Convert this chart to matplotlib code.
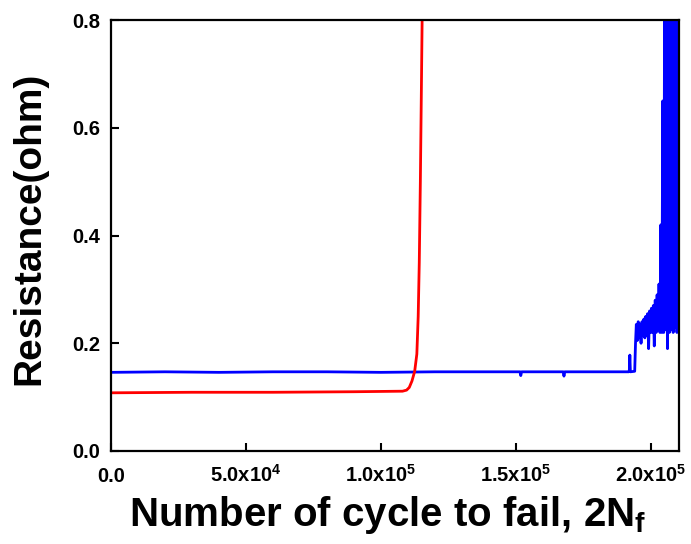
import matplotlib
matplotlib.use('Agg')
import matplotlib.pyplot as plt

plt.rcParams['font.family'] = ['Liberation Sans', 'DejaVu Sans']
plt.rcParams['font.weight'] = 'bold'
plt.rcParams['mathtext.fontset'] = 'custom'
plt.rcParams['mathtext.rm'] = 'Liberation Sans:bold'
plt.rcParams['mathtext.it'] = 'Liberation Sans:bold'
plt.rcParams['mathtext.bf'] = 'Liberation Sans:bold'
plt.rcParams['mathtext.default'] = 'rm'

# sample 1 (red): fails early
red_cycles = [0, 30000, 60000, 90000, 108000, 109500, 110500, 111500, 112500,
              113300, 113800, 114200, 114600, 115000, 115300]
red_res = [0.108, 0.109, 0.109, 0.110, 0.111, 0.113, 0.118, 0.130, 0.148,
           0.180, 0.250, 0.350, 0.500, 0.680, 0.820]

# sample 2 (blue): flat, then noisy rise near failure
blue_cycles = [0, 20000, 40000, 60000, 80000, 100000, 120000, 140000, 151500,
               151800, 152100, 160000, 167500, 167800, 168100, 180000, 191800,
               192000, 192200, 192400, 194000, 194300,
               194600, 194950, 195300, 195650, 196000, 196350, 196700, 197050,
               197400, 197750, 198100, 198450, 198800, 199150, 199500, 199850,
               200200, 200550, 200900, 201250, 201600, 201950, 202300, 202650,
               203000, 203350, 203700, 204050, 204400, 204750, 205100, 205450,
               205800, 206150, 206500, 206850, 207200, 207550, 207900, 208250,
               208600, 208950, 209300, 209650, 210000, 210350, 210700]
blue_res = [0.146, 0.147, 0.146, 0.147, 0.147, 0.146, 0.147, 0.147, 0.147,
            0.140, 0.147, 0.147, 0.147, 0.139, 0.147, 0.147, 0.147,
            0.148, 0.178, 0.147, 0.148, 0.200,
            0.235, 0.205, 0.240, 0.210, 0.235, 0.200, 0.240, 0.215,
            0.245, 0.210, 0.250, 0.215, 0.255, 0.190, 0.260, 0.220,
            0.265, 0.220, 0.270, 0.195, 0.280, 0.220, 0.290, 0.225,
            0.310, 0.220, 0.420, 0.220, 0.650, 0.220, 0.900, 0.225,
            0.900, 0.190, 0.900, 0.220, 0.900, 0.225, 0.900, 0.220,
            0.900, 0.230, 0.900, 0.220, 0.900, 0.225, 0.900]

x_ticks = [0, 50000, 100000, 150000, 200000]
x_tick_labels = ['0.0', '5.0x10$^{4}$', '1.0x10$^{5}$', '1.5x10$^{5}$', '2.0x10$^{5}$']
y_ticks = [0.0, 0.2, 0.4, 0.6, 0.8]
y_tick_labels = ['0.0', '0.2', '0.4', '0.6', '0.8']

fig = plt.figure(figsize=(6.91, 5.44), dpi=100)
ax = fig.add_axes([0.1606, 0.171, 0.8220, 0.792])

ax.plot(blue_cycles, blue_res, color='#0000ff', lw=2.0)
ax.plot(red_cycles, red_res, color='#ff0000', lw=2.0)

ax.set_xlim(0, 210400)
ax.set_ylim(0, 0.8)
ax.set_xticks(x_ticks)
ax.set_xticklabels(x_tick_labels, va='baseline')
ax.set_yticks(y_ticks)
ax.set_yticklabels(y_tick_labels)
ax.tick_params(axis='both', direction='in', length=6, width=1.5, labelsize=14.5)
ax.tick_params(axis='x', pad=22)
ax.tick_params(axis='y', pad=8)
for side in ax.spines.values():
    side.set_linewidth(1.6)

ax.set_xlabel('Number of cycle to fail, 2N$_{f}$', fontsize=29, fontweight='bold')
ax.xaxis.set_label_coords(0.488, -0.100)
ax.set_ylabel('Resistance(ohm)', fontsize=28, fontweight='bold')
ax.yaxis.set_label_coords(-0.144, 0.517)
ax.yaxis.label.set_va('center')

fig.savefig('out.png', dpi=100)
